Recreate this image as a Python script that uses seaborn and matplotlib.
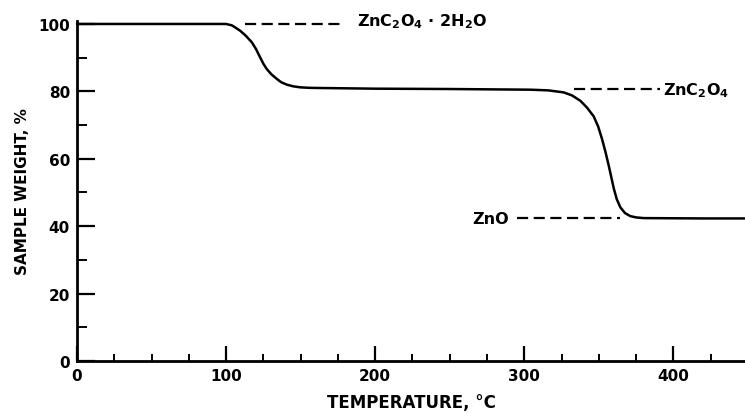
import matplotlib
matplotlib.use("Agg")
import matplotlib.pyplot as plt
import seaborn as sns
import pandas as pd

# Data (temperature °C, sample weight %)
temperature = [0, 50, 100, 103.8, 106, 109.4, 113, 117.2, 120, 122.8, 125, 127.3, 130.5, 134,
               137, 140.7, 145, 149.7, 156, 163, 200, 250, 304, 316, 326.4, 332, 337.6, 342,
               346.5, 349.5, 352.1, 354.5, 356.6, 358.4, 360, 362, 364.4, 367.5, 371, 375,
               380, 420, 450]
weight = [100, 100, 100, 99.6, 99.0, 98.0, 96.6, 94.6, 92.6, 90.1, 88.2, 86.6, 85.0, 83.7,
          82.7, 82.0, 81.5, 81.2, 81.05, 81.0, 80.8, 80.7, 80.5, 80.3, 79.7, 78.8, 77.2, 75.2,
          72.6, 69.6, 65.9, 61.9, 58.0, 54.4, 51.2, 48.0, 45.6, 43.9, 43.0, 42.6,
          42.4, 42.3, 42.3]

x_ticks = [0, 100, 200, 300, 400]
y_ticks = [0, 20, 40, 60, 80, 100]

labels = ["ZnC$_2$O$_4$ · 2H$_2$O", "ZnC$_2$O$_4$", "ZnO"]
label_pos = [(188, 101.0), (393, 80.4), (265, 42.4)]
dash_lines = [((113, 180), 99.9), ((333, 391), 80.7), ((295, 364), 42.4)]

sns.set_style("ticks")
plt.rcParams['font.family'] = ['DejaVu Sans']
plt.rcParams['mathtext.fontset'] = 'dejavusans'
plt.rcParams['mathtext.default'] = 'bf'
plt.rcParams['text.color'] = 'black'
plt.rcParams['axes.labelcolor'] = 'black'
plt.rcParams['xtick.color'] = 'black'
plt.rcParams['ytick.color'] = 'black'
plt.rcParams['axes.edgecolor'] = 'black'

fig = plt.figure(figsize=(7.45, 4.14), dpi=100)
ax = fig.add_axes([77/745, 1 - 362/414, 1 - 77/745, (362 - 21.6)/414])

df = pd.DataFrame({"T": temperature, "W": weight})
sns.lineplot(data=df, x="T", y="W", ax=ax, color="black", linewidth=1.8, clip_on=False,
             solid_joinstyle="round", solid_capstyle="round")

ax.set_xlim(0, 448)
ax.set_ylim(0, 101)
ax.set_xticks(x_ticks)
ax.set_yticks(y_ticks)
ax.set_xticks([v for v in range(25, 450, 25) if v % 100 != 0], minor=True)
ax.set_yticks([10, 30, 50, 70, 90], minor=True)
ax.tick_params(axis="x", which="major", direction="in", length=11, width=1.6, labelsize=11, pad=5)
ax.tick_params(axis="x", which="minor", direction="in", length=5, width=1.4)
ax.tick_params(axis="y", which="major", direction="in", length=13, width=1.6, labelsize=11, pad=5)
ax.tick_params(axis="y", which="minor", direction="in", length=7, width=1.4)
for lab in ax.get_xticklabels() + ax.get_yticklabels():
    lab.set_fontweight("bold")

sns.despine(ax=ax)
for s in ["left", "bottom"]:
    ax.spines[s].set_linewidth(2.0)

ax.set_xlabel("TEMPERATURE, °C", fontsize=12, fontweight="bold", labelpad=7)
ax.set_ylabel("SAMPLE WEIGHT, %", fontsize=11, fontweight="bold", labelpad=6)

for (x0, x1), yv in dash_lines:
    ax.plot([x0, x1], [yv, yv], color="black", linestyle=(0, (5, 2.5)), linewidth=1.6, clip_on=False)

for txt, (xv, yv) in zip(labels, label_pos):
    ax.text(xv, yv, txt, fontsize=11.5, fontweight="bold", ha="left", va="center", clip_on=False)

fig.savefig("out.png", dpi=100)
